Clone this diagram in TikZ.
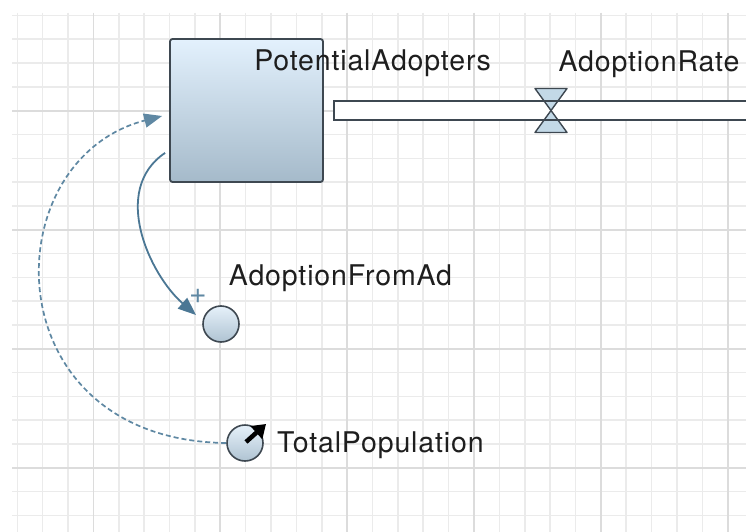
\documentclass[tikz,border=0pt]{standalone}
\usepackage{fontspec}
\setmainfont{TeX Gyre Heros}
\usetikzlibrary{arrows.meta}

\definecolor{gridminor}{HTML}{EBEBEB}
\definecolor{gridmajor}{HTML}{DCDCDC}
\definecolor{edgegray}{HTML}{3E4851}
\definecolor{stocktop}{HTML}{E3F1FD}
\definecolor{stockbot}{HTML}{A5BACA}
\definecolor{auxtop}{HTML}{E6F1FA}
\definecolor{auxbot}{HTML}{AFC3D2}
\definecolor{linkblue}{HTML}{4B7794}
\definecolor{dashblue}{HTML}{5F88A3}
\definecolor{valvefill}{HTML}{C3D9E7}
\definecolor{labeltext}{HTML}{1E1E1E}

\tikzset{
  minorline/.style={draw=gridminor, line width=1.6pt},
  majorline/.style={draw=gridmajor, line width=1.8pt},
  stockbox/.style={draw=edgegray, line width=1.8pt, rounded corners=2.5pt,
    top color=stocktop, bottom color=stockbot,
    minimum width=153pt, minimum height=143pt, inner sep=0pt},
  auxvar/.style={circle, draw=edgegray, line width=1.6pt,
    top color=auxtop, bottom color=auxbot, minimum size=36pt, inner sep=0pt},
  pipeline/.style={draw=edgegray, line width=1.6pt},
  valveshape/.style={draw=edgegray, line width=1.4pt, fill=valvefill, line join=round},
  varlabel/.style={text=labeltext, inner sep=0pt,
    font=\fontsize{28.5}{32}\selectfont\addfontfeature{LetterSpace=3}},
  link/.style={draw=linkblue, line width=1.8pt,
    -{Triangle[length=18pt,width=14pt]}},
  infolink/.style={draw=dashblue, line width=1.7pt, dash pattern=on 5pt off 3pt,
    -{Triangle[length=18pt,width=14pt]}},
  polarity/.style={text=dashblue, inner sep=0pt, font=\fontsize{30}{30}\selectfont}
}

\begin{document}
\begin{tikzpicture}[x=1pt, y=-1pt]
\useasboundingbox (0,0) rectangle (746,532);
\fill[white] (0,0) rectangle (746,532);

% background grid: minor lines, then every fifth line a little darker
\foreach \k in {0,...,28} {
  \pgfmathsetmacro\gx{17.3+25.37*\k}
  \draw[minorline] (\gx,13) -- (\gx,532);
}
\foreach \j in {0,...,21} {
  \pgfmathsetmacro\gy{15.5+23.8*\j}
  \draw[minorline] (12,\gy) -- (746,\gy);
}
\foreach \k in {3,8,13,18,23,28} {
  \pgfmathsetmacro\gx{17.3+25.37*\k}
  \draw[majorline] (\gx,13) -- (\gx,532);
}
\foreach \j in {4,9,14,19} {
  \pgfmathsetmacro\gy{15.5+23.8*\j}
  \draw[majorline] (12,\gy) -- (746,\gy);
}

% stock
\node[stockbox] (stock) at (246.5,110.5) {};
\node[varlabel, anchor=base] (stocklabel) at (372.5,71) {PotentialAdopters};

% outflow pipe with its valve
\coordinate (pipeend) at (752,110.5);
\coordinate (valve) at (551,110.5);
\fill[white] ([shift={(10,-9.5)}]stock.east) rectangle ([shift={(0,9.5)}]pipeend);
\path[valveshape] ([shift={(-16,-22)}]valve) -- ([shift={(16,-22)}]valve) -- (valve) -- cycle;
\path[valveshape] ([shift={(-16,22)}]valve) -- ([shift={(16,22)}]valve) -- (valve) -- cycle;
\draw[pipeline] ([shift={(0,-9.5)}]pipeend) -- ([shift={(10,-9.5)}]stock.east)
  -- ([shift={(10,9.5)}]stock.east) -- ([shift={(0,9.5)}]pipeend);
\node[varlabel, anchor=base] (valvelabel) at (649,71.5) {AdoptionRate};

% auxiliaries
\node[auxvar] (adfa) at (221,324) {};
\node[varlabel, anchor=base] (adfalabel) at (340.5,285) {AdoptionFromAd};

\node[auxvar] (tp) at (245,443) {};
\node[varlabel, anchor=base west] (tplabel) at (277,452.5) {TotalPopulation};
\draw[black, line width=4.5pt, -{Triangle[length=13pt,width=17pt]}]
  ([shift={(1,-1)}]tp.center) -- ([shift={(21,-19)}]tp.center);

% links
\draw[link] ([shift={(-4,-30)}]stock.south west)
  .. controls (110,190) and (150,275) .. ([shift={(-25,-9)}]adfa.center);
\node[polarity] (plus) at (198,296) {+};

\draw[infolink] (tp.west)
  .. controls (-8,440) and (-8,160) .. ([shift={(-7,5.5)}]stock.west);
\end{tikzpicture}
\end{document}
